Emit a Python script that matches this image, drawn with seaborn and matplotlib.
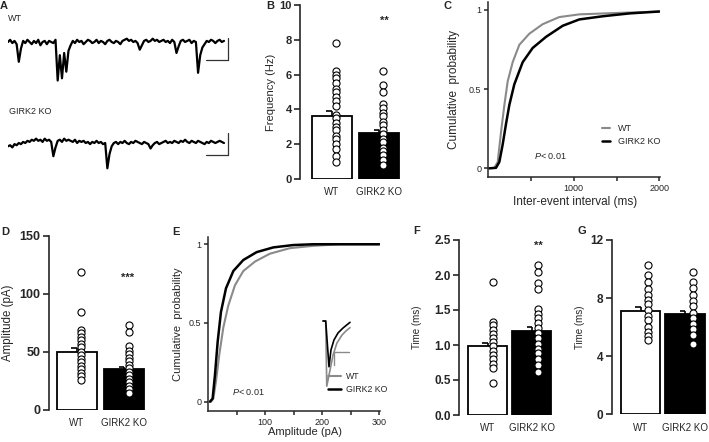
import numpy as np
import pandas as pd
import seaborn as sns
import matplotlib.pyplot as plt

W, H = 709, 442
groups = ['WT', 'GIRK2 KO']
GRAY = '#8a8a8a'

# A: example traces, one sample every 20 ms (pA)
trace_wt = [0, 2, -1, 1, -2, -18, -6, 1, -1, 2,
            0, -2, 1, -1, 2, -3, 0, 1, -2, 1,
            0, -1, 2, -35, -12, -33, -10, -27, -8, -3,
            1, -1, 2, 0, 1, -2, 0, 2, 1, -1,
            0, 2, -1, 1, 0, -2, 1, 2, 0, -1,
            1, 0, -2, 1, 2, 3, 1, 2, 0, 1,
            -1, -7, -3, 1, 2, 0, 1, 3, 1, 2,
            0, 1, 2, 0, 1, -1, 2, 0, -10, -4,
            1, 2, 0, 1, 2, -1, 1, 0, -28, -12,
            -5, -2, 1, 0, 2, 1, -1, 1, 2, 0, 1]
trace_ko = [-3, -2, -4, -1, -2, 0, -1, 1, 0, 2,
            1, 3, 2, 4, 2, 3, 1, 4, 2, 3,
            1, -12, -4, 2, 3, 1, 4, 2, 3, 2,
            1, 3, 0, 2, 1, 2, 0, 1, -1, 1,
            0, 2, 0, 1, -1, 0, -23, -10, -3, 0,
            1, -1, 1, 0, 2, 0, -1, 1, 0, 2,
            1, 0, -1, 1, 0, -1, -5, -2, 0, 1,
            -1, 0, 1, 2, 0, 1, 0, 2, 1, 0,
            2, 1, 3, 1, 0, 2, 1, 0, 2, 1,
            0, -1, 1, 0, 2, 1, 0, 1, 2, 1, 0]

# B: frequency (Hz)
freq_mean = [3.6, 2.63]
freq_sem = [0.33, 0.19]
freq_wt = [7.8, 6.2, 6.0, 5.8, 5.5, 5.2, 5.0, 4.7, 4.5, 4.2, 3.7,
           3.5, 3.2, 3.0, 2.8, 2.5, 2.3, 2.0, 1.7, 1.3, 1.0]
freq_ko = [6.2, 5.4, 5.0, 4.3, 4.1, 3.8, 3.6, 3.3, 3.1, 2.8, 2.6,
           2.3, 2.1, 1.8, 1.6, 1.4, 1.1, 0.8]

# C: cumulative inter-event interval
isi_wt_ms = [12, 70, 110, 149, 188, 227, 285, 363, 480, 636, 830, 1064, 1455, 2000]
isi_wt_cdf = [0, 0.003, 0.04, 0.23, 0.40, 0.55, 0.67, 0.78, 0.85, 0.91, 0.955, 0.972, 0.98, 0.99]
isi_ko_ms = [12, 90, 129, 168, 207, 246, 304, 402, 519, 675, 870, 1064, 1338, 1649, 2000]
isi_ko_cdf = [0, 0.003, 0.04, 0.15, 0.28, 0.40, 0.53, 0.67, 0.76, 0.83, 0.90, 0.94, 0.96, 0.978, 0.99]

# D: amplitude (pA)
amp_mean = [50.0, 35.3]
amp_sem = [3.5, 1.5]
amp_wt = [119, 84, 69, 66, 63, 60, 57, 54, 50, 47, 44, 41, 38, 35, 32, 29, 26]
amp_ko = [73, 67, 55, 51, 48, 45, 42, 39, 36, 33, 30, 27, 24, 21, 18, 15]

# E: cumulative amplitude
amp_wt_pa = [4.7, 8.8, 13.5, 19.3, 26.3, 35, 46.8, 61.4, 81.9, 108, 143, 184, 231, 300]
amp_wt_cdf = [0, 0.02, 0.13, 0.30, 0.47, 0.61, 0.74, 0.83, 0.89, 0.94, 0.975, 0.99, 1.0, 1.0]
amp_ko_pa = [2.9, 7.6, 11.7, 16.4, 22.2, 31, 43.9, 61.4, 84.8, 114, 149, 184, 300]
amp_ko_cdf = [0, 0.02, 0.17, 0.38, 0.57, 0.72, 0.83, 0.90, 0.95, 0.98, 0.995, 1.0, 1.0]

# E inset: averaged events (ms, pA)
avg_wt_ms = [0, 1.8, 2.5, 4.7, 6.7, 9.3, 12.7, 15.3, 18]
avg_wt_pa = [0, 0, -49, -36.8, -25.6, -16.5, -10.5, -7.5, -5]
avg_ko_ms = [0, 1.8, 4.0, 5.3, 7.3, 10, 13.3, 18]
avg_ko_pa = [0, 0, -34.4, -21.8, -14.3, -9, -5.3, -1]

# F: rise time (ms)
rise_mean = [0.98, 1.2]
rise_sem = [0.05, 0.06]
rise_wt = [1.9, 1.33, 1.28, 1.22, 1.16, 1.1, 1.04, 0.98, 0.92, 0.86, 0.8, 0.73, 0.67, 0.46]
rise_ko = [2.15, 2.05, 1.88, 1.8, 1.52, 1.45, 1.38, 1.31, 1.24, 1.17, 1.1, 1.02,
           0.95, 0.88, 0.8, 0.71, 0.62]

# G: decay time (ms)
decay_mean = [7.13, 6.92]
decay_sem = [0.27, 0.21]
decay_wt = [10.3, 9.6, 9.1, 8.6, 8.2, 7.9, 7.6, 7.2, 6.8, 6.5, 6.0, 5.7, 5.4, 5.1]
decay_ko = [9.8, 9.1, 8.7, 8.2, 7.8, 7.45, 7.0, 6.6, 6.2, 5.85, 5.45, 4.85]

sns.set_theme(style='ticks')
plt.rcParams['font.family'] = ['Liberation Sans', 'DejaVu Sans']
plt.rcParams['mathtext.fontset'] = 'custom'
plt.rcParams['mathtext.it'] = 'Liberation Sans:italic'
plt.rcParams['mathtext.rm'] = 'Liberation Sans'

fig = plt.figure(figsize=(W / 100, H / 100), dpi=100)


def px_axes(x0, y0, x1, y1):
    return fig.add_axes([x0 / W, 1 - y1 / H, (x1 - x0) / W, (y1 - y0) / H])


def label(x, y, s, **kw):
    fig.text(x / W, 1 - y / H, s, **kw)


def bar_panel(ax, mean, sem, wt, ko, xlim, ylim, yticks, ylabel, label_x,
              width, dot_off, tick_size, label_size):
    sns.barplot(x=groups, y=mean, hue=groups, order=groups, hue_order=groups,
                palette=['white', 'black'], edgecolor='black', linewidth=1.3,
                width=width, legend=False, ax=ax)
    for i in range(2):
        top = mean[i] + sem[i]
        ax.vlines(i, mean[i], top, color='black', lw=1.2, zorder=3)
        ax.hlines(top, i - 0.12, i, color='black', lw=1.2, zorder=3)
    dots = pd.DataFrame({'x': [dot_off] * len(wt) + [1 + dot_off] * len(ko),
                         'y': wt + ko})
    sns.scatterplot(data=dots, x='x', y='y', marker='o', s=26, color='white',
                    edgecolor='black', linewidth=0.8, zorder=4, ax=ax, legend=False)
    ax.set_xlim(*xlim)
    ax.set_ylim(*ylim)
    ax.set_yticks(yticks)
    ax.set_xticks([0, 1], groups)
    ax.set_xlabel('')
    ax.set_ylabel(ylabel, fontsize=label_size)
    ax.yaxis.set_label_coords(label_x, 0.5)
    sns.despine(ax=ax, bottom=True)
    ax.spines['left'].set_linewidth(1.2)
    ax.tick_params(axis='y', direction='out', length=4, width=1.2,
                   labelsize=tick_size, pad=2)
    ax.tick_params(axis='x', length=0, labelsize=7, pad=6)
    for t in ax.get_yticklabels():
        t.set_fontweight('bold')
    ax.patch.set_alpha(0)


def cdf_panel(ax, xw, yw, xk, yk, xlim, ylim, xticks, xticklabels, xlabel,
              label_xy, ylabel_x, label_size):
    sns.lineplot(x=xw, y=yw, color=GRAY, linewidth=1.5, ax=ax, label='WT')
    sns.lineplot(x=xk, y=yk, color='black', linewidth=1.8, ax=ax, label='GIRK2 KO')
    ax.set_xlim(*xlim)
    ax.set_ylim(*ylim)
    ax.set_xticks(xticks, xticklabels)
    ax.set_yticks([0, 0.5, 1], ['0', '0.5', '1'])
    ax.set_xlabel(xlabel, fontsize=label_size)
    ax.set_ylabel('Cumulative  probability', fontsize=label_size)
    ax.xaxis.set_label_coords(*label_xy)
    ax.yaxis.set_label_coords(ylabel_x, 0.5)
    sns.despine(ax=ax)
    for s in ['left', 'bottom']:
        ax.spines[s].set_linewidth(1.1)
    ax.tick_params(direction='out', length=3, width=1.1, labelsize=6.5, pad=2)
    ax.patch.set_alpha(0)


# ---- A: traces
t_wt = np.arange(len(trace_wt)) * 20
t_ko = np.arange(len(trace_ko)) * 20
for trace, t, box, ylim, corner in [
        (trace_wt, t_wt, (8, 30, 235, 85), (-39.1, 10.9), -16.4),
        (trace_ko, t_ko, (8, 125, 235, 175), (-29.1, 16.4), -10.9)]:
    ax = px_axes(*box)
    sns.lineplot(x=t, y=trace, color='black', linewidth=1.6, ax=ax)
    ax.plot([2037, 2037], [corner, corner + 20], color='#333333', lw=0.9)
    ax.plot([1837, 2037], [corner, corner], color='#333333', lw=0.9)
    ax.set_xlim(0, 2102)
    ax.set_ylim(*ylim)
    ax.axis('off')
label(8, 14, 'WT', fontsize=6.5, va='top')
label(9, 107, 'GIRK2 KO', fontsize=6.5, va='top')

# ---- B
ax = px_axes(300, 5, 400.6, 179)
bar_panel(ax, freq_mean, freq_sem, freq_wt, freq_ko, (-0.667, 1.45), (0, 10),
          [0, 2, 4, 6, 8, 10], 'Frequency (Hz)', -0.239, 0.84, 0.09, 8, 8)

# ---- C
ax = px_axes(488.3, 1.7, 660, 176.7)
cdf_panel(ax, isi_wt_ms, isi_wt_cdf, isi_ko_ms, isi_ko_cdf, (0, 2008),
          (-0.053, 1.052), [500, 1000, 1500, 2000], ['', '1000', '', '2000'],
          'Inter-event interval (ms)', (0.505, -0.11), -0.165, 8.5)
ax.legend(loc='upper left', bbox_to_anchor=(602 / W, 1 - 124 / H),
          bbox_transform=fig.transFigure, frameon=False, fontsize=6.5,
          handlelength=0.9, handletextpad=0.9, labelspacing=0.45,
          borderpad=0, borderaxespad=0)
label(534, 156, r'$\it{P}$< 0.01', fontsize=6.5, va='center')

# ---- D
ax = px_axes(48.7, 235.7, 144.9, 410)
bar_panel(ax, amp_mean, amp_sem, amp_wt, amp_ko, (-0.59, 1.43), (0, 150),
          [0, 50, 100, 150], 'Amplitude (pA)', -0.36, 0.84, 0.09, 9, 8.3)

# ---- E
ax = px_axes(208.3, 236.7, 380, 411)
cdf_panel(ax, amp_wt_pa, amp_wt_cdf, amp_ko_pa, amp_ko_cdf, (0, 301.2),
          (-0.059, 1.048), [50, 100, 150, 200, 250, 300],
          ['', '100', '', '200', '', '300'], 'Amplitude (pA)',
          (0.563, -0.09), -0.149, 8)
ax.legend(loc='upper left', bbox_to_anchor=(328 / W, 1 - 372 / H),
          bbox_transform=fig.transFigure, frameon=False, fontsize=6.3,
          handlelength=1.5, handletextpad=0.55, labelspacing=0.5,
          borderpad=0, borderaxespad=0)
label(232, 391.7, r'$\it{P}$< 0.01', fontsize=6.5, va='center')

ins = px_axes(320, 315, 355, 395)
sns.lineplot(x=avg_wt_ms, y=avg_wt_pa, color=GRAY, linewidth=1.2, ax=ins, sort=False)
sns.lineplot(x=avg_ko_ms, y=avg_ko_pa, color='black', linewidth=1.2, ax=ins, sort=False)
ins.plot([7.5, 7.5], [-23.1, -33.1], color=GRAY, lw=1)
ins.plot([7.5, 17.5], [-23.1, -23.1], color=GRAY, lw=1)
ins.set_xlim(-2, 21.33)
ins.set_ylim(-55.6, 4.5)
ins.axis('off')

# ---- F
ax = px_axes(459.3, 240, 551.7, 415)
bar_panel(ax, rise_mean, rise_sem, rise_wt, rise_ko, (-0.64, 1.45), (0, 2.5),
          [0, 0.5, 1.0, 1.5, 2.0, 2.5], 'Time (ms)', -0.407, 0.88, 0.13, 8.5, 7)
ax.set_yticks([0, 0.5, 1.0, 1.5, 2.0, 2.5], ['0.0', '0.5', '1.0', '1.5', '2.0', '2.5'])
for t in ax.get_yticklabels():
    t.set_fontweight('bold')

# ---- G
ax = px_axes(611.7, 240, 705.6, 414.3)
bar_panel(ax, decay_mean, decay_sem, decay_wt, decay_ko, (-0.65, 1.46), (0, 12),
          [0, 4, 8, 12], 'Time (ms)', -0.284, 0.89, 0.17, 8.5, 7)

# stars
label(384, 21, '**', fontsize=8, fontweight='bold', ha='center', va='center')
label(128, 278, '***', fontsize=8, fontweight='bold', ha='center', va='center')
label(538, 246, '**', fontsize=8, fontweight='bold', ha='center', va='center')

# panel letters
for x, y, s in [(0, 1, 'A'), (266, 1, 'B'), (443, 1, 'C'), (1, 227, 'D'),
                (172, 227, 'E'), (413, 226, 'F'), (578, 226, 'G')]:
    label(x, y, s, fontsize=8, fontweight='bold', va='top')

fig.savefig('out.png', dpi=100)
